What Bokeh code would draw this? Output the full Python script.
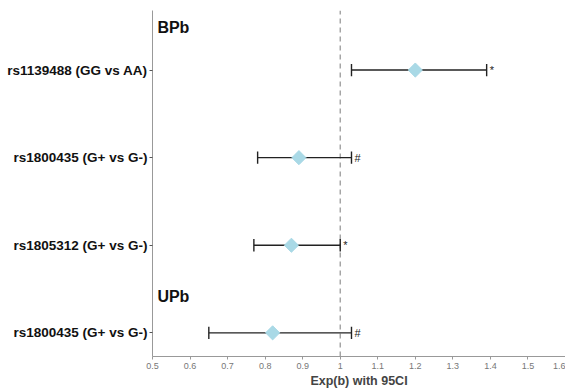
import numpy as np
from bokeh.plotting import figure
from bokeh.models import Range1d, FixedTicker, ColumnDataSource
from bokeh.core.properties import value
from bokeh.embed import file_html
from bokeh.resources import INLINE

labels = ["rs1139488 (GG vs AA)", "rs1800435 (G+ vs G-)", "rs1805312 (G+ vs G-)", "rs1800435 (G+ vs G-)"]
rows = [4, 3, 2, 1]
est = [1.20, 0.89, 0.87, 0.82]
lo = [1.03, 0.78, 0.77, 0.65]
hi = [1.39, 1.03, 1.00, 1.03]
sig = ["*", "#", "*", "#"]
groups = ["BPb", "UPb"]
group_rows = [4.49, 1.41]
x_ticks = [0.5, 0.6, 0.7, 0.8, 0.9, 1.0, 1.1, 1.2, 1.3, 1.4, 1.5, 1.6]
ref_value = 1.0

cap = 0.07
src = ColumnDataSource(dict(
    y=rows, est=est, lo=lo, hi=hi, sig=sig,
    ylo=[r - cap for r in rows], yhi=[r + cap for r in rows],
    sx=[h + 0.008 for h in hi],
))

p = figure(width=565, height=390, output_backend="svg", toolbar_location=None,
           x_range=Range1d(0.5, 1.6), y_range=Range1d(0.73, 4.68),
           min_border_left=152, min_border_right=0, min_border_top=10, min_border_bottom=33)
p.outline_line_color = None
p.xgrid.visible = False
p.ygrid.visible = False
p.background_fill_color = "white"

# reference line
p.line(x=[ref_value, ref_value], y=[0.73, 4.68], line_color="#999999", line_width=1.3, line_dash="5 4")

# error bars
p.segment(x0="lo", y0="y", x1="hi", y1="y", source=src, line_color="#222222", line_width=1.4)
p.segment(x0="lo", y0="ylo", x1="lo", y1="yhi", source=src, line_color="#222222", line_width=1.4)
p.segment(x0="hi", y0="ylo", x1="hi", y1="yhi", source=src, line_color="#222222", line_width=1.4)

# points
p.scatter(x="est", y="y", source=src, marker="square", angle=np.pi / 4, size=10,
          fill_color="#A9D9E6", line_color="#A9D9E6")

# significance marks
p.text(x="sx", y="y", text="sig", source=src, text_font=value("Liberation Sans"),
       text_font_size="11px", text_baseline="middle", text_align="left", text_color="#222222")

# group labels
p.text(x=[0.513, 0.513], y=group_rows, text=groups, text_font=value("Liberation Sans"),
       text_font_size="16px", text_font_style="bold", text_baseline="middle", text_align="left",
       text_color="#111111")

# axes
p.xaxis.ticker = FixedTicker(ticks=x_ticks)
p.xaxis.axis_label = "Exp(b) with 95CI"
p.xaxis.axis_label_text_font = "Liberation Sans"
p.xaxis.axis_label_text_font_style = "bold"
p.xaxis.axis_label_text_font_size = "12.5px"
p.xaxis.axis_label_standoff = 2
p.xaxis.major_label_text_font = "Liberation Sans"
p.xaxis.major_label_text_font_size = "9px"
p.xaxis.major_label_text_color = "#777777"
p.xaxis.axis_line_color = "#999999"
p.xaxis.major_tick_line_color = "#999999"
p.xaxis.major_tick_out = 3
p.xaxis.major_tick_in = 0
p.xaxis.minor_tick_line_color = None
p.xaxis.major_label_standoff = 3

p.yaxis.ticker = FixedTicker(ticks=rows)
p.yaxis.major_label_overrides = {r: l for r, l in zip(rows, labels)}
p.yaxis.major_label_text_font = "Liberation Sans"
p.yaxis.major_label_text_font_style = "bold"
p.yaxis.major_label_text_font_size = "13.5px"
p.yaxis.major_label_text_color = "#111111"
p.yaxis.axis_line_color = "#999999"
p.yaxis.major_tick_line_color = "#555555"
p.yaxis.major_tick_out = 3
p.yaxis.major_tick_in = 0
p.yaxis.minor_tick_line_color = None
p.yaxis.major_label_standoff = 2

open("out.html", "w").write(file_html(p, INLINE))
